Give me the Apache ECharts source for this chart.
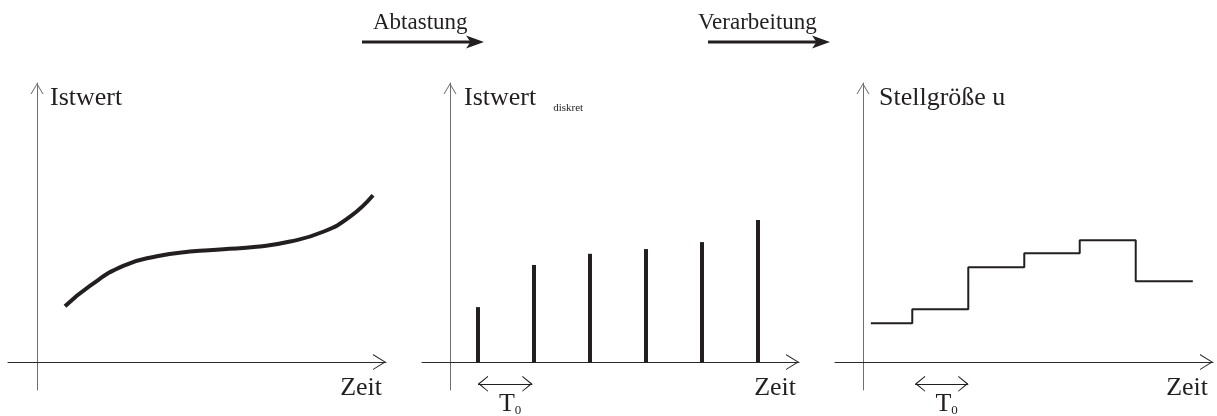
<!DOCTYPE html>
<html><head><meta charset="utf-8">
<script src="https://cdn.jsdelivr.net/npm/echarts@6/dist/echarts.min.js"></script>
<style>html,body{margin:0;padding:0;background:#fff}#c{width:1217px;height:416px}</style>
</head><body><div id="c"></div>
<script>
// ---- data (time in units of the sampling period T0) ----
const curveTime  = [0.5, 0.95, 1.54, 2.14, 2.73, 3.33, 3.92, 4.52, 5.11, 5.59, 6.0];
const curveValue = [2.0, 2.74, 3.45, 3.79, 3.96, 4.04, 4.13, 4.32, 4.67, 5.21, 5.98];
const sampleTime  = [0.5, 1.5, 2.5, 3.5, 4.5, 5.5];
const sampleValue = [1.97, 3.48, 3.88, 4.05, 4.30, 5.09];
const holdTime  = [0.14, 0.88, 1.88, 2.88, 3.87, 4.87, 5.89];
const holdValue = [1.39, 1.89, 3.40, 3.90, 4.37, 2.90, 2.90];
const periodSpanSampled = [0.5, 1.47];
const periodSpanHold    = [0.93, 1.88];
const periodLevel = -0.78;
const yNames = ['Istwert', 'Istwert', 'Stellgröße u'];
const yNameSub = 'diskret';
const xName = 'Zeit';
const periodLabel = ['T', '0'];
const stageLabels = ['Abtastung', 'Verarbeitung'];

const FONT = '"Liberation Serif","Times New Roman",serif';
const INK = '#231f20';

function chevron(w, len, t) {
  // tip at the bbox centre, pointing up
  const h = len * 2;
  const c = w / 2;
  return 'path://M' + c + ',0 L' + c + ',0 Z M' + c + ',' + len +
    ' L' + w + ',' + h + ' L' + (w - t) + ',' + h + ' L' + c + ',' + (len + t * 1.6) +
    ' L' + t + ',' + h + ' L0,' + h + ' Z';
}
const xArrow = chevron(16, 13, 1.2);
const yArrow = chevron(13, 11, 1.1);
const tArrow = chevron(16, 10, 1.2);

const grids = [
  {left: 8, right: 831, top: 83, bottom: 26},
  {left: 422, right: 418, top: 83, bottom: 26},
  {left: 835, right: 4, top: 83, bottom: 26}
];
const xRanges = [[-0.518, 6.232], [-0.5, 6.232], [-0.5, 6.25]];
const namePadLeft = [13, 14, 16];
const xNameGap = [-4, -3, -5];

function xAxisOf(i) {
  return {
    type: 'value', gridIndex: i, min: xRanges[i][0], max: xRanges[i][1],
    axisLine: {onZero: true, lineStyle: {color: '#2a2a2a', width: 1}, symbol: ['none', xArrow], symbolSize: [16, 26]},
    axisTick: {show: false}, axisLabel: {show: false}, splitLine: {show: false},
    name: xName, nameLocation: 'end', nameGap: xNameGap[i],
    nameTextStyle: {fontFamily: FONT, fontSize: 26, color: INK, align: 'right', verticalAlign: 'top', lineHeight: 26, padding: [13, 0, 0, 0]}
  };
}
function yAxisOf(i) {
  const ax = {
    type: 'value', gridIndex: i, min: -1, max: 10,
    axisLine: {onZero: true, lineStyle: {color: '#6e6e6e', width: 1}, symbol: ['none', yArrow], symbolSize: [13, 22]},
    axisTick: {show: false}, axisLabel: {show: false}, splitLine: {show: false},
    name: yNames[i], nameLocation: 'end', nameGap: 0,
    nameTextStyle: {fontFamily: FONT, fontSize: 26, color: INK, align: 'left', verticalAlign: 'top', lineHeight: 26, padding: [2, 0, 0, namePadLeft[i]]}
  };
  if (i === 1) {
    ax.name = '{a|' + yNames[i] + '}{b|' + yNameSub + '}';
    ax.nameTextStyle.rich = {
      a: {fontFamily: FONT, fontSize: 26, color: INK, lineHeight: 26, verticalAlign: 'top'},
      b: {fontFamily: FONT, fontSize: 11, color: INK, lineHeight: 29, verticalAlign: 'bottom', padding: [0, 0, 0, 17]}
    };
  }
  return ax;
}

function periodMark(span) {
  return {
    silent: true, symbol: [tArrow, tArrow], symbolSize: [16, 20],
    lineStyle: {type: 'solid', color: INK, width: 1},
    label: {
      show: true, position: 'insideMiddleBottom', distance: 7, offset: [5, 0],
      formatter: '{t|' + periodLabel[0] + '}{s|' + periodLabel[1] + '}',
      rich: {
        t: {fontFamily: FONT, fontSize: 26, color: INK, lineHeight: 26},
        s: {fontFamily: FONT, fontSize: 13, color: INK, lineHeight: 6, verticalAlign: 'bottom'}
      }
    },
    emphasis: {disabled: true},
    data: [[{coord: [span[0], periodLevel]}, {coord: [span[1], periodLevel]}]]
  };
}

const zip = (a, b) => a.map((v, k) => [v, b[k]]);

const option = {
  animation: false,
  grid: grids.map(g => Object.assign({containLabel: false, outerBoundsMode: 'none'}, g)),
  xAxis: [0, 1, 2].map(xAxisOf),
  yAxis: [0, 1, 2].map(yAxisOf),
  series: [
    {type: 'line', xAxisIndex: 0, yAxisIndex: 0, data: zip(curveTime, curveValue), smooth: 0.5,
     showSymbol: false, symbol: 'none', silent: true,
     lineStyle: {color: INK, width: 4, cap: 'butt'}},
    {type: 'bar', xAxisIndex: 1, yAxisIndex: 1, data: zip(sampleTime, sampleValue), barWidth: 4,
     silent: true, itemStyle: {color: INK}, markLine: periodMark(periodSpanSampled)},
    {type: 'line', xAxisIndex: 2, yAxisIndex: 2, data: zip(holdTime, holdValue), step: 'end',
     showSymbol: false, symbol: 'none', silent: true,
     lineStyle: {color: INK, width: 2}, markLine: periodMark(periodSpanHold)}
  ],
  graphic: [
    {type: 'text', x: 373, y: 22.5, silent: true, style: {text: stageLabels[0], font: '23px ' + FONT, fill: INK, verticalAlign: 'middle'}},
    {type: 'line', silent: true, shape: {x1: 362, y1: 42, x2: 474, y2: 42}, style: {stroke: INK, lineWidth: 3}},
    {type: 'polygon', silent: true, shape: {points: [[466, 35.5], [484, 42], [466, 48.5], [470.5, 42]]}, style: {fill: INK}},
    {type: 'text', x: 698, y: 22.5, silent: true, style: {text: stageLabels[1], font: '23px ' + FONT, fill: INK, verticalAlign: 'middle'}},
    {type: 'line', silent: true, shape: {x1: 708, y1: 42, x2: 820, y2: 42}, style: {stroke: INK, lineWidth: 3}},
    {type: 'polygon', silent: true, shape: {points: [[812, 35.5], [830, 42], [812, 48.5], [816.5, 42]]}, style: {fill: INK}}
  ]
};
const chart = echarts.init(document.getElementById('c'), null, {renderer: 'canvas'});
chart.setOption(option);
</script>
</body></html>
